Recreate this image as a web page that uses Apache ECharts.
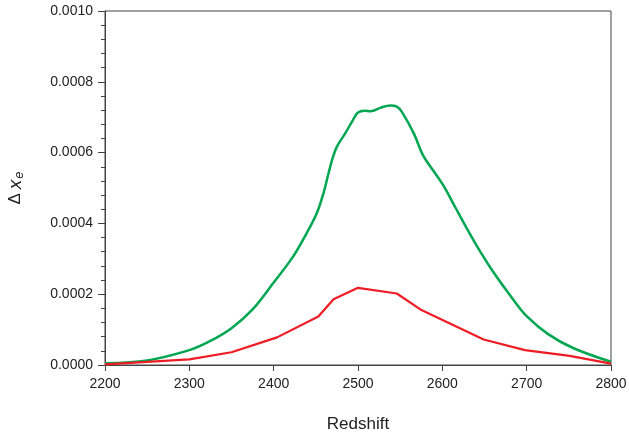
<!DOCTYPE html>
<html>
<head>
<meta charset="utf-8">
<script src="https://cdn.jsdelivr.net/npm/echarts@6/dist/echarts.min.js"></script>
<style>
  html, body { margin: 0; padding: 0; background: #fff; }
  #main { width: 629px; height: 433px; }
</style>
</head>
<body>
<div id="main"></div>
<script>
  // redshift / delta x_e pairs
  var greenZ = [2200, 2250, 2300, 2325, 2350, 2375, 2400, 2423, 2439, 2451, 2459, 2465, 2470, 2475, 2485, 2494, 2500, 2508, 2515, 2527, 2538, 2546, 2552, 2566, 2577, 2589, 2601, 2615, 2629, 2645, 2660, 2684, 2700, 2725, 2755, 2800];
  var greenDx = [0.000005, 0.000013, 0.000042, 0.000068, 0.000104, 0.000157, 0.000233, 0.000306, 0.000372, 0.000428, 0.000485, 0.000541, 0.000585, 0.000617, 0.000655, 0.000692, 0.000713, 0.000718, 0.000717, 0.000727, 0.000733, 0.00073, 0.000715, 0.000655, 0.000593, 0.00055, 0.000508, 0.000447, 0.000386, 0.00032, 0.000264, 0.000185, 0.000138, 0.000088, 0.000048, 0.000009];

  var redZ = [2200, 2300, 2350, 2404, 2453, 2471, 2500, 2546, 2574, 2649, 2698, 2751, 2800];
  var redDx = [0.000002, 0.000016, 0.000036, 0.000078, 0.000137, 0.000186, 0.000218, 0.000202, 0.000157, 0.000072, 0.000042, 0.000026, 0.000004];

  var xTicks = [2200, 2300, 2400, 2500, 2600, 2700, 2800];
  var yTicks = [0, 0.0002, 0.0004, 0.0006, 0.0008, 0.0010];

  function pairs(xs, ys) {
    return xs.map(function (x, i) { return [x, ys[i]]; });
  }

  var chart = echarts.init(document.getElementById('main'));
  var font = 'Liberation Sans, Arial, sans-serif';
  chart.setOption({
    animation: false,
    grid: {
      left: 105, right: 18, top: 11, bottom: 68,
      containLabel: false, outerBoundsMode: 'none',
      show: true, borderColor: '#444', borderWidth: 1
    },
    xAxis: {
      type: 'value',
      min: xTicks[0], max: xTicks[xTicks.length - 1], interval: 100,
      name: 'Redshift', nameLocation: 'middle', nameGap: 51,
      nameTextStyle: { fontFamily: font, fontSize: 17, color: '#222', letterSpacing: 1 },
      axisLine: { lineStyle: { color: '#444' } },
      axisTick: { length: 6, lineStyle: { color: '#444' } },
      axisLabel: {
        fontFamily: font, fontSize: 14, color: '#222', margin: 12,
        formatter: function (v) { return String(v); }
      },
      splitLine: { show: false }
    },
    yAxis: {
      type: 'value',
      min: yTicks[0], max: yTicks[yTicks.length - 1], interval: 0.0002,
      name: '{d|Δ}{x|x}{e|e}', nameLocation: 'middle', nameGap: 79, nameRotate: 90,
      nameTextStyle: {
        rich: {
          d: { fontFamily: font, fontSize: 17, color: '#222' },
          x: { fontFamily: font, fontSize: 19, fontStyle: 'italic', color: '#222', padding: [0, 0, 0, 4] },
          e: { fontFamily: font, fontSize: 13, fontStyle: 'italic', color: '#222', verticalAlign: 'bottom', padding: [8, 0, 0, 1] }
        }
      },
      axisLine: { show: true, lineStyle: { color: '#444' } },
      axisTick: { show: true, length: 7, lineStyle: { color: '#444' } },
      minorTick: { show: true, splitNumber: 5, length: 4, lineStyle: { color: '#444' } },
      axisLabel: {
        fontFamily: font, fontSize: 14, color: '#222', margin: 12,
        formatter: function (v) { return v.toFixed(4); }
      },
      splitLine: { show: false }
    },
    series: [
      {
        type: 'line', smooth: 0.35, showSymbol: false,
        data: pairs(greenZ, greenDx),
        lineStyle: { color: '#00a650', width: 2.5 }
      },
      {
        type: 'line', smooth: false, showSymbol: false,
        data: pairs(redZ, redDx),
        lineStyle: { color: '#ee1c25', width: 2.2 }
      }
    ]
  });
</script>
</body>
</html>
